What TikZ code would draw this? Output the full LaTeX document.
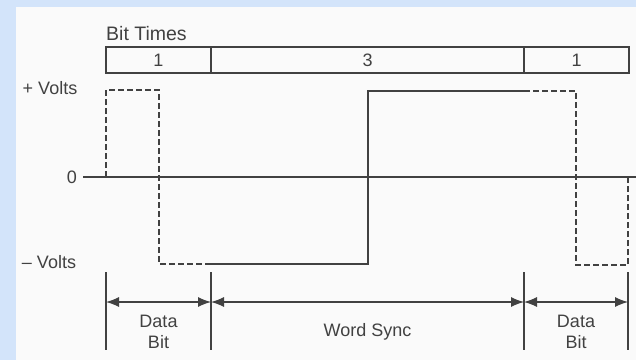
\documentclass[tikz,border=0pt]{standalone}
\usepackage{fontspec}
\setmainfont{Liberation Sans}
\usetikzlibrary{arrows.meta, positioning}
\definecolor{PageBlue}{RGB}{211,228,250}
\definecolor{PaperWhite}{RGB}{250,250,250}
\definecolor{InkGray}{RGB}{65,65,65}

\begin{document}
\begin{tikzpicture}[x=1pt, y=-1pt,
    txt/.style={text=InkGray, inner sep=0pt, font=\fontsize{18}{21}\selectfont},
    cell/.style={txt, rectangle, draw=InkGray, line width=1.2pt, minimum height=26pt, outer sep=0pt},
    wave/.style={draw=InkGray, line width=1.2pt},
    pulse/.style={wave, dash pattern=on 6pt off 3pt},
    marker/.style={draw=InkGray, line width=1.1pt},
    spanarrow/.style={{Latex[length=13pt,width=10pt]}-{Latex[length=13pt,width=10pt]}, draw=InkGray, fill=InkGray, line width=1.1pt}
]
\fill[PageBlue] (0,0) rectangle (636,360);
\fill[PaperWhite] (16,7) rectangle (636,360);
\useasboundingbox (0,0) rectangle (636,360);

\node[cell, minimum width=105pt, anchor=north west] (bitA) at (106,47) {1};
\node[cell, minimum width=313pt, right=0pt of bitA] (bitB) {3};
\node[cell, minimum width=105pt, right=0pt of bitB] (bitC) {1};
\node[txt, font=\fontsize{19.5}{21}\selectfont, above=6pt of bitA.north west, anchor=south west] (bitTimes) {Bit Times};

\coordinate (zeroL) at (83,177);
\coordinate (zeroR) at (636,177);
\node[txt, left=6pt of zeroL] (zero) {0};
\node[txt] (plusV) at (50,88) {+ Volts};
\node[txt] (minusV) at (49,262) {– Volts};

\draw[wave] (zeroL) -- (zeroR);
\draw[pulse] (106,177) |- (159,90) |- (211,264);
\draw[wave] (211,264) -| (368,91) -- (524,91);
\draw[pulse] (524,91) -| (576,265) -| (628,177);

\foreach \n/\x in {t0/106, t1/211, t2/524, t3/628} {
  \draw[marker] (\x,272) -- (\x,350);
  \coordinate (\n) at (\x,302);
}
\draw[spanarrow] (t0) -- node[txt, align=center, yshift=-30pt] (dataA) {Data\\Bit} (t1);
\draw[spanarrow] (t1) -- node[txt, align=center, yshift=-30pt] (sync) {Word Sync} (t2);
\draw[spanarrow] (t2) -- node[txt, align=center, yshift=-30pt] (dataB) {Data\\Bit} (t3);
\end{tikzpicture}
\end{document}
